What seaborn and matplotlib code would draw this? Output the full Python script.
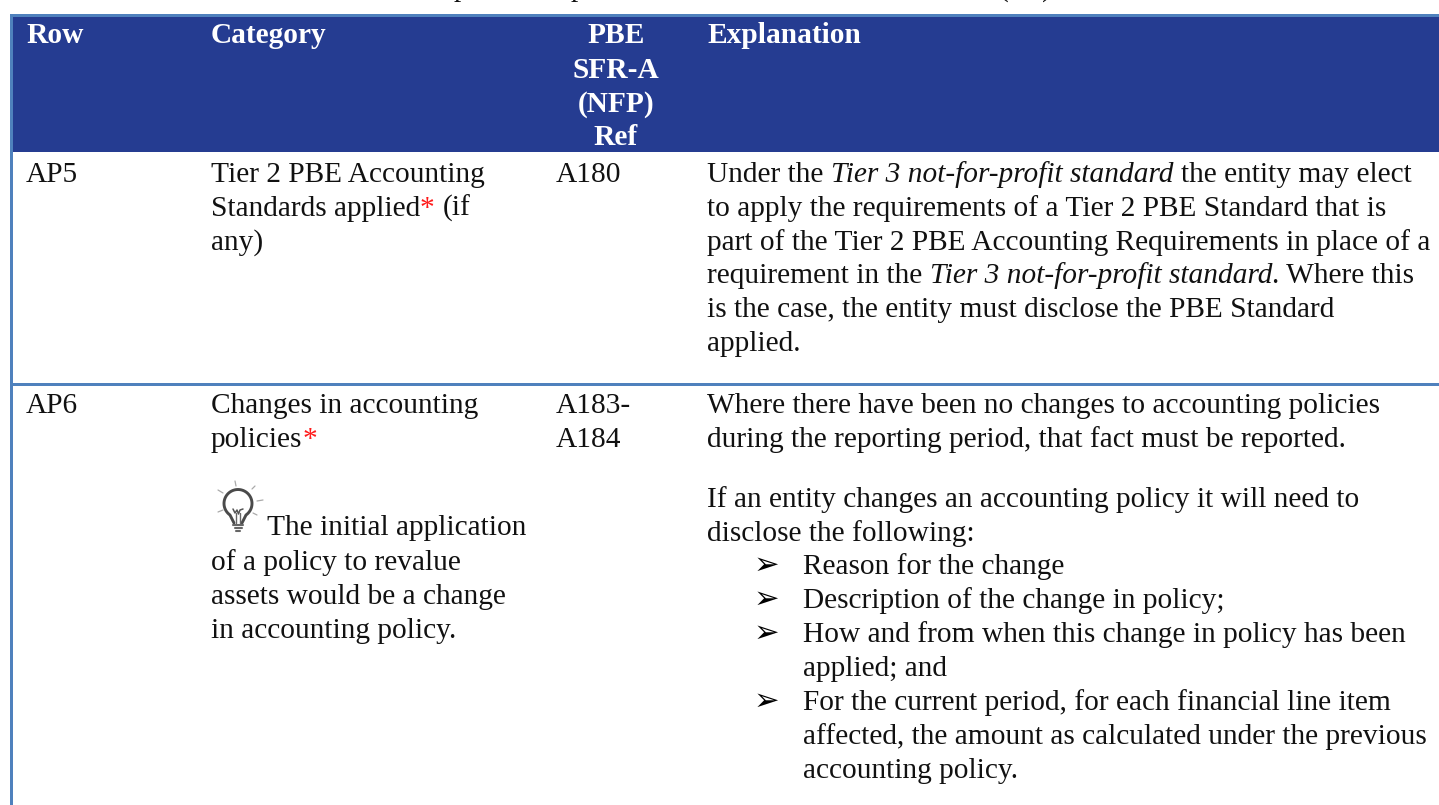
import numpy as np
import matplotlib
matplotlib.use('Agg')
import matplotlib.pyplot as plt
from matplotlib.font_manager import FontProperties
from matplotlib.patches import Rectangle
import seaborn as sns

# Configuration
W, H = 1439, 805
FS = 21.2
STEP = 34
COL_X = [26, 211, 556, 707]
BLUE, LINE, RED = sns.color_palette(['#253c91', '#4f81bd', '#ff1a1a'])
INK = '#111111'

sns.set_theme(style='white')
plt.rcParams['font.family'] = ['Liberation Serif', 'DejaVu Sans']

# Table content
header_left = ['Row', 'Category']
header_ref = ['PBE', 'SFR-A', '(NFP)', 'Ref']
header_expl = 'Explanation'
row_ids = ['AP5', 'AP6']
ref_ap5 = ['A180']
ref_ap6 = ['A183-', 'A184']
cat_ap6 = ['Changes in accounting']
tip_lines = ['of a policy to revalue', 'assets would be a change', 'in accounting policy.']
expl_ap6_top = ['Where there have been no changes to accounting policies',
                'during the reporting period, that fact must be reported.']
expl_ap6_mid = ['If an entity changes an accounting policy it will need to',
                'disclose the following:']
bullets = [['Reason for the change'],
           ['Description of the change in policy;'],
           ['How and from when this change in policy has been', 'applied; and'],
           ['For the current period, for each financial line item',
            'affected, the amount as calculated under the previous',
            'accounting policy.']]

fig = plt.figure(figsize=(W / 100, H / 100), dpi=100)
ax = fig.add_axes([0, 0, 1, 1])
ax.set_xlim(0, W)
ax.set_ylim(H, 0)
ax.axis('off')

# header band and rules
ax.add_patch(Rectangle((13, 17), W - 13, 135, fc=BLUE, ec='none'))
ax.add_patch(Rectangle((10, 14), W - 10, 3, fc=LINE, ec='none'))
ax.add_patch(Rectangle((10, 14), 3, H - 14, fc=LINE, ec='none'))
ax.add_patch(Rectangle((10, 383), W - 10, 3, fc=LINE, ec='none'))

renderer = fig.canvas.get_renderer()


def txt(x, y, s, **kw):
    kw.setdefault('fontsize', FS)
    kw.setdefault('color', INK)
    return ax.text(x, y, s, va='baseline', **kw)


def lines(x, y, rows, **kw):
    for i, s in enumerate(rows):
        txt(x, y + i * STEP, s, **kw)


def advance(s, style):
    # dots on both sides so that trailing spaces get counted
    fp = FontProperties(family='Liberation Serif', size=FS, style=style)
    wide = renderer.get_text_width_height_descent('.' + s + '.', fp, False)[0]
    dots = renderer.get_text_width_height_descent('..', fp, False)[0]
    return wide - dots


def runs(x, y, parts):
    # mixed styles on a single line, each part starts where the last one ended
    for s, style, color in parts:
        txt(x, y, s, style=style, color=color)
        x += advance(s, style)
    return x


# caption is cut off by the page, only the tails of these letters are left
for x, s in [(461, 'p'), (578, 'p'), (1004, '('), (1047, ')')]:
    txt(x, -4, s, ha='center')

# header
for x, s in zip(COL_X[:2], header_left):
    txt(x, 43, s, color='white', fontweight='bold')
txt(COL_X[3], 43, header_expl, color='white', fontweight='bold')
for y, s in zip([43, 78, 112, 145], header_ref):
    txt(616, y, s, color='white', fontweight='bold', ha='center')

# AP5
txt(COL_X[0], 182, row_ids[0])
txt(COL_X[1], 182, 'Tier 2 PBE Accounting')
runs(COL_X[1], 216, [('Standards applied', 'normal', INK), ('* ', 'normal', RED), ('(if', 'normal', INK)])
txt(COL_X[1], 250, 'any)')
lines(COL_X[2], 182, ref_ap5)

runs(COL_X[3], 182, [('Under the ', 'normal', INK),
                     ('Tier 3 not-for-profit standard ', 'italic', INK),
                     ('the entity may elect', 'normal', INK)])
txt(COL_X[3], 216, 'to apply the requirements of a Tier 2 PBE Standard that is')
txt(COL_X[3], 250, 'part of the Tier 2 PBE Accounting Requirements in place of a')
runs(COL_X[3], 283, [('requirement in the ', 'normal', INK),
                     ('Tier 3 not-for-profit standard', 'italic', INK),
                     ('. Where this', 'normal', INK)])
txt(COL_X[3], 317, 'is the case, the entity must disclose the PBE Standard')
txt(COL_X[3], 351, 'applied.')

# AP6
txt(COL_X[0], 413, row_ids[1])
lines(COL_X[1], 413, cat_ap6)
runs(COL_X[1], 447, [('policies', 'normal', INK), ('*', 'normal', RED)])
lines(COL_X[2], 413, ref_ap6)
lines(COL_X[3], 413, expl_ap6_top)
lines(COL_X[3], 507, expl_ap6_mid)

# light bulb next to the tip
t = np.radians(np.linspace(-235, 55, 50))
bx = np.r_[234, 238 + 14 * np.cos(t), 242]
by = np.r_[523, 503.5 + 14 * np.sin(t), 523]
ax.plot(bx, by, color='#4a4a4a', lw=2.1, solid_capstyle='round')
ax.plot([233, 235, 237, 238.5, 240, 243], [509, 513, 510, 514, 510, 509], color='#555555', lw=1.1)
ax.plot([236, 236], [513, 523], color='#666666', lw=1)
ax.plot([240, 240], [513, 523], color='#666666', lw=1)
for yy in [525, 528, 531]:
    ax.plot([233 + (yy - 525) / 2, 243 - (yy - 525) / 2], [yy, yy], color='#666666', lw=1.5)
for a, b, c, d in [(235, 481, 236, 486), (255, 486, 252, 489), (257, 501, 263, 500),
                   (218, 490, 223, 493), (218, 512, 223, 510), (253, 513, 257, 515)]:
    ax.plot([a, c], [b, d], color='#aaaaaa', lw=0.9)

txt(267, 535, 'The initial application')
txt(COL_X[1], 570, tip_lines[0])
txt(COL_X[1], 604, tip_lines[1])
txt(COL_X[1], 638, tip_lines[2])

# bullets
y = 574
for item in bullets:
    txt(754, y, '\u27a2', fontsize=22, family=['DejaVu Sans'], color='black')
    lines(803, y, item)
    y += STEP * len(item)

fig.savefig('out.png', dpi=100)
